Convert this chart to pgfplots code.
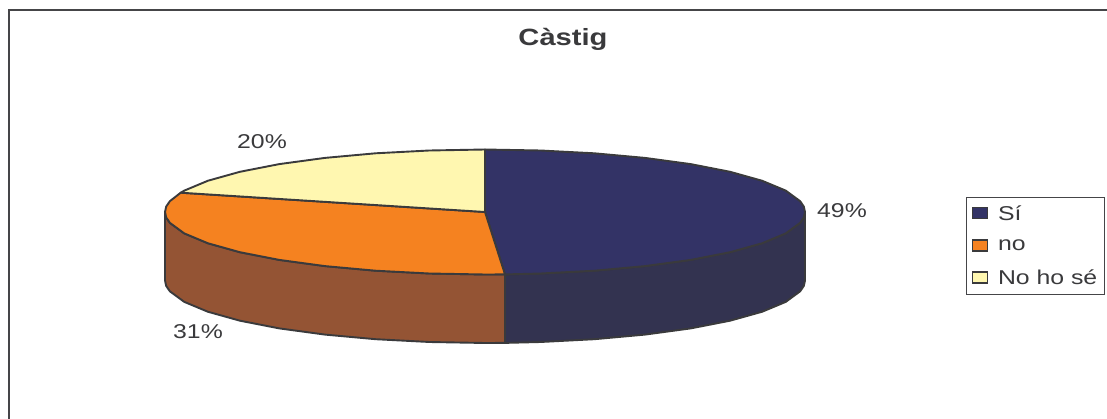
\documentclass[border=0pt]{standalone}
\usepackage{pgfplots}
\pgfplotsset{compat=1.18}
\usepackage{fontspec}
\setmainfont{Liberation Sans}
\definecolor{framegray}{HTML}{454548}
\definecolor{inkgray}{HTML}{3A3A3C}
\definecolor{sliceblue}{HTML}{333366}
\definecolor{sideblue}{HTML}{333350}
\definecolor{sliceorange}{HTML}{F58220}
\definecolor{sidebrown}{HTML}{945434}
\definecolor{sliceyellow}{HTML}{FFF7B0}
% Wide letterforms of the chart text
\newcommand{\wide}[1]{\hspace{8pt}\scalebox{1.24}[1]{#1}}
\newcommand{\widenode}[1]{\scalebox{1.24}[1]{#1}}
\newcommand{\labelfont}{\fontsize{20}{24}\selectfont}
\begin{document}
\begin{tikzpicture}
\begin{axis}[
  scale only axis, width=1107pt, height=419pt,
  xmin=0, xmax=1107, ymin=0, ymax=419, y dir=reverse,
  hide axis,
  legend style={at={(axis cs:966,197)}, anchor=north west, draw=framegray, line width=1pt,
    font=\labelfont, text=inkgray, inner xsep=5pt, inner ysep=6pt,
    row sep=14pt, cells={anchor=west}},
  legend cell align=left,
  slice/.style={draw=inkgray, line width=1.9pt, line join=round, fill=#1, forget plot},
  keybox/.style={legend image code/.code={
     \draw[draw=inkgray, line width=1.5pt, fill=#1] (0pt,-5pt) rectangle (15pt,6pt);}},
]
% The page spans the whole plotting area
\path (axis cs:0,0) rectangle (axis cs:1107,419);
% Side wall: 31 % slice
\addplot[slice=sidebrown] coordinates {
 (505,274.4) (485,274.5) (429.4,273.5) (375.6,270.7) (325,266.1) (279.3,259.9)
 (239.9,252.2) (207.9,243.25) (184.3,233.4) (169.9,222.85) (166.2,217.45) (165,212)
 (165,280.5) (166.2,285.95) (169.9,291.35) (184.3,301.9) (207.9,311.75) (239.9,320.7)
 (279.3,328.4) (325,334.6) (375.6,339.2) (429.4,342) (485,343) (505,342.9)
} -- cycle;
% Side wall: 49 % slice
\addplot[slice=sideblue] coordinates {
 (505,274.4) (540.6,273.5) (594.4,270.7) (645,266.1) (690.7,259.9) (730.1,252.2)
 (762.1,243.25) (785.7,233.4) (800.1,222.85) (803.8,217.45) (805,212)
 (805,280.5) (803.8,285.95) (800.1,291.35) (785.7,301.9) (762.1,311.75) (730.1,320.7)
 (690.7,328.4) (645,334.6) (594.4,339.2) (540.6,342) (505,342.9)
} -- cycle;
% Top face: 49 %
\addplot[slice=sliceblue] coordinates {
 (485,212) (485,149.5) (540.6,150.5) (594.4,153.3) (645,157.9) (690.7,164.1) (730.1,171.8)
 (762.1,180.75) (785.7,190.6) (800.1,201.15) (803.8,206.55) (805,212)
 (803.8,217.45) (800.1,222.85) (785.7,233.4) (762.1,243.25) (730.1,252.2) (690.7,259.9)
 (645,266.1) (594.4,270.7) (540.6,273.5) (505,274.4)
} -- cycle;
% Top face: 31 %
\addplot[slice=sliceorange] coordinates {
 (485,212) (505,274.4) (485,274.5) (429.4,273.5) (375.6,270.7) (325,266.1) (279.3,259.9)
 (239.9,252.2) (207.9,243.25) (184.3,233.4) (169.9,222.85) (166.2,217.45) (165,212)
 (166.2,206.55) (169.9,201.15) (180.7,192.7)
} -- cycle;
% Top face: 20 %
\addplot[slice=sliceyellow] coordinates {
 (485,212) (180.7,192.7) (184.3,190.6) (207.9,180.75) (239.9,171.8) (279.3,164.1)
 (325,157.9) (375.6,153.3) (429.4,150.5) (485,149.5)
} -- cycle;
% Outer frame, open at the right and at the bottom
\addplot[draw=framegray, line width=2.5pt, forget plot] coordinates {(9,419) (9,10) (1107,10)};
% Legend keys
\addlegendimage{keybox=sliceblue}
\addlegendentry{\wide{Sí}}
\addlegendimage{keybox=sliceorange}
\addlegendentry{\wide{no}}
\addlegendimage{keybox=sliceyellow}
\addlegendentry{\wide{No ho sé}}
% Title and slice labels
\node[text=inkgray, font=\fontsize{23.5}{26}\selectfont\bfseries] at (axis cs:563,39) {\widenode{Càstig}};
\node[text=inkgray, font=\labelfont] at (axis cs:262,142) {\widenode{20\%}};
\node[text=inkgray, font=\labelfont] at (axis cs:842,211) {\widenode{49\%}};
\node[text=inkgray, font=\labelfont] at (axis cs:198,332) {\widenode{31\%}};
\end{axis}
\end{tikzpicture}
\end{document}
